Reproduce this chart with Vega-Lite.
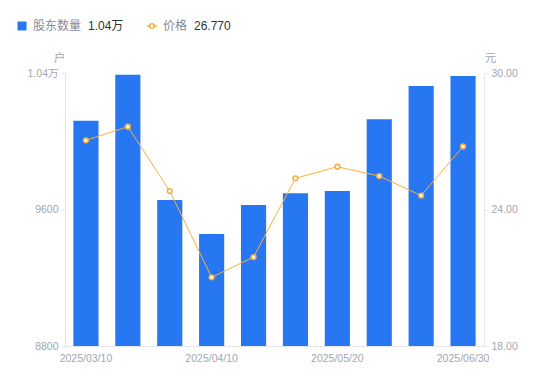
{
  "$schema": "https://vega.github.io/schema/vega-lite/v6.json",
  "width": 419,
  "height": 273,
  "autosize": {"type": "none"},
  "padding": {"left": 65, "top": 73, "right": 66, "bottom": 35},
  "config": {
    "view": {"stroke": null},
    "font": "Liberation Sans, Noto Sans CJK SC, sans-serif"
  },
  "data": {
    "values": [
      {"date": "2025/03/10", "holders": 10120, "price": 27.04},
      {"date": "2025/03/20", "holders": 10390, "price": 27.64},
      {"date": "2025/03/31", "holders": 9656, "price": 24.81},
      {"date": "2025/04/10", "holders": 9457, "price": 21.02},
      {"date": "2025/04/20", "holders": 9627, "price": 21.91},
      {"date": "2025/04/30", "holders": 9695, "price": 25.37},
      {"date": "2025/05/20", "holders": 9708, "price": 25.88},
      {"date": "2025/05/31", "holders": 10129, "price": 25.47},
      {"date": "2025/06/13", "holders": 10324, "price": 24.61},
      {"date": "2025/06/30", "holders": 10382, "price": 26.77}
    ]
  },
  "encoding": {
    "x": {
      "field": "date",
      "type": "ordinal",
      "sort": null,
      "scale": {"paddingInner": 0.4, "paddingOuter": 0.2},
      "axis": {
        "title": null,
        "values": ["2025/03/10", "2025/04/10", "2025/05/20", "2025/06/30"],
        "labelAngle": 0,
        "ticks": false,
        "domainColor": "#e4e6eb",
        "labelColor": "#a3a6b0",
        "labelFontSize": 10.5,
        "labelPadding": 7,
        "encode": {"labels": {"update": {"dx": {"signal": "-4.5 - 18.6 * datum.index"}}}}
      }
    }
  },
  "layer": [
    {
      "mark": {"type": "bar", "clip": true},
      "encoding": {
        "y": {
          "field": "holders",
          "type": "quantitative",
          "scale": {"domain": [8800, 10400], "zero": false, "nice": false},
          "axis": {
            "orient": "left",
            "values": [8800, 9600, 10400],
            "labelExpr": "datum.value >= 10000 ? format(datum.value / 10000, '.2f') + '万' : datum.value",
            "grid": false,
            "tickSize": 4,
            "tickColor": "#e4e6eb",
            "domainColor": "#e4e6eb",
            "labelColor": "#a3a6b0",
            "labelFontSize": 10.5,
            "labelPadding": 3,
            "title": "户",
            "titleAngle": 0,
            "titleX": -6,
            "titleY": -15,
            "titleAlign": "center",
            "titleBaseline": "middle",
            "titleColor": "#a3a6b0",
            "titleFontWeight": "normal",
            "titleFontSize": 11.5
          }
        },
        "fill": {
          "datum": "股东数量",
          "type": "nominal",
          "scale": {"range": ["#2776f2"]},
          "legend": {
            "orient": "none",
            "legendX": -49,
            "legendY": -53,
            "direction": "horizontal",
            "symbolType": "square",
            "symbolSize": 81,
            "symbolStrokeWidth": 0,
            "labelFontSize": 12,
            "labelColor": "#868a94",
            "labelOffset": 5,
            "title": "1.04万",
            "titleOrient": "right",
            "titleFontSize": 12,
            "titleFontWeight": "normal",
            "titleColor": "#333333",
            "titlePadding": 7,
            "titleBaseline": "middle",
            "padding": 0
          }
        }
      }
    },
    {
      "encoding": {
        "y": {
          "field": "price",
          "type": "quantitative",
          "scale": {"domain": [18, 30], "zero": false, "nice": false},
          "axis": {
            "orient": "right",
            "values": [18, 24, 30],
            "format": ".2f",
            "grid": false,
            "tickSize": 4,
            "tickColor": "#e4e6eb",
            "domainColor": "#e4e6eb",
            "labelColor": "#a3a6b0",
            "labelFontSize": 10.5,
            "labelPadding": 3,
            "title": "元",
            "titleAngle": 0,
            "titleX": 6,
            "titleY": -15,
            "titleAlign": "center",
            "titleBaseline": "middle",
            "titleColor": "#a3a6b0",
            "titleFontWeight": "normal",
            "titleFontSize": 11.5
          }
        },
        "stroke": {
          "datum": "价格",
          "type": "nominal",
          "scale": {"range": ["#f8b03c"]},
          "legend": {
            "orient": "none",
            "legendX": 81,
            "legendY": -53,
            "direction": "horizontal",
            "symbolType": "M-1,0L-0.45,0M0.45,0L1,0M-0.45,0A0.45,0.45 0 1,0 0.45,0A0.45,0.45 0 1,0 -0.45,0Z",
            "symbolSize": 100,
            "symbolFillColor": "#ffffff",
            "symbolStrokeWidth": 1.5,
            "labelFontSize": 12,
            "labelColor": "#868a94",
            "labelOffset": 5,
            "title": "26.770",
            "titleOrient": "right",
            "titleFontSize": 12,
            "titleFontWeight": "normal",
            "titleColor": "#333333",
            "titlePadding": 7,
            "titleBaseline": "middle",
            "padding": 0
          }
        }
      },
      "layer": [
        {"mark": {"type": "line", "strokeWidth": 1}},
        {"mark": {"type": "point", "shape": "circle", "filled": true, "fill": "#ffffff", "size": 22, "strokeWidth": 1.6, "opacity": 1}}
      ]
    }
  ],
  "resolve": {"scale": {"y": "independent"}}
}
